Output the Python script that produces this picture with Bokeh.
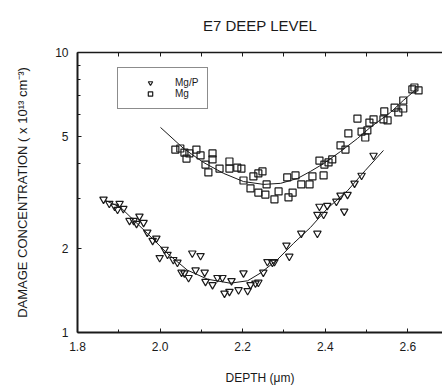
from bokeh.plotting import figure
from bokeh.models import FixedTicker, LinearAxis, PrintfTickFormatter, Legend, LegendItem
from bokeh.embed import file_html
from bokeh.resources import INLINE

# ---- data ----
mgp_depth = [1.863, 1.877, 1.890, 1.897, 1.902, 1.911, 1.926, 1.936, 1.943, 1.950,
             1.960, 1.969, 1.982, 1.991, 1.999, 2.011, 2.018, 2.032, 2.042, 2.052,
             2.059, 2.069, 2.078, 2.086, 2.098, 2.108, 2.110, 2.127, 2.139, 2.151,
             2.173, 2.202, 2.156, 2.168, 2.190, 2.212, 2.219, 2.231, 2.238, 2.250,
             2.260, 2.272, 2.277, 2.313, 2.306, 2.342, 2.381, 2.386, 2.381, 2.396,
             2.405, 2.427, 2.437, 2.454, 2.446, 2.471, 2.488, 2.517]
mgp_conc = [2.99, 2.89, 2.82, 2.75, 2.89, 2.77, 2.51, 2.51, 2.45, 2.60,
            2.47, 2.28, 2.13, 2.17, 1.85, 1.98, 1.90, 1.82, 1.78, 1.64,
            1.63, 1.57, 1.92, 1.67, 1.88, 1.64, 1.52, 1.48, 1.57, 1.57,
            1.53, 1.63, 1.38, 1.40, 1.42, 1.41, 1.48, 1.50, 1.51, 1.64,
            1.79, 1.78, 1.79, 1.87, 2.05, 2.26, 2.26, 2.82, 2.64, 2.64,
            2.84, 2.94, 3.09, 3.11, 2.71, 3.41, 3.64, 4.29]

mg_depth = [2.037, 2.049, 2.059, 2.064, 2.071, 2.088, 2.098, 2.110, 2.117, 2.127,
            2.127, 2.144, 2.168, 2.168, 2.187, 2.197, 2.202, 2.219, 2.226, 2.238,
            2.248, 2.238, 2.255, 2.258, 2.277, 2.287, 2.308, 2.311, 2.321, 2.328,
            2.342, 2.362, 2.369, 2.386, 2.396, 2.398, 2.408, 2.417, 2.437, 2.449,
            2.456, 2.478, 2.488, 2.497, 2.502, 2.507, 2.517, 2.541, 2.543, 2.551,
            2.568, 2.577, 2.589, 2.589, 2.611, 2.616, 2.626]
mg_conc = [4.50, 4.54, 4.39, 4.18, 4.36, 4.50, 4.29, 3.98, 3.73, 4.36,
           4.15, 3.85, 4.08, 3.85, 3.88, 3.85, 3.49, 3.27, 3.61, 3.70,
           3.76, 3.16, 3.11, 3.38, 2.99, 3.19, 3.58, 3.04, 3.16, 3.64,
           3.38, 3.38, 3.61, 4.11, 3.64, 3.98, 4.05, 4.15, 4.66, 4.50,
           5.14, 5.81, 5.22, 4.97, 5.27, 5.62, 5.77, 5.77, 6.16, 5.72,
           6.36, 6.11, 6.31, 6.74, 7.38, 7.50, 7.32]

mgp_fit_depth = [1.868, 1.904, 1.969, 2.017, 2.066, 2.115, 2.170, 2.212, 2.243, 2.284,
                 2.323, 2.364, 2.405, 2.454, 2.497, 2.541]
mgp_fit_conc = [2.96, 2.80, 2.26, 1.92, 1.67, 1.55, 1.50, 1.53, 1.63, 1.82,
                2.08, 2.37, 2.77, 3.21, 3.79, 4.47]

mg_fit_depth = [2.001, 2.057, 2.105, 2.154, 2.202, 2.251, 2.292, 2.333, 2.364, 2.396,
                2.437, 2.478, 2.509, 2.558, 2.589, 2.623]
mg_fit_conc = [5.40, 4.54, 4.05, 3.70, 3.46, 3.38, 3.41, 3.55, 3.76, 4.01,
               4.43, 4.93, 5.40, 6.11, 6.74, 7.44]

x_major = [1.8, 2.0, 2.2, 2.4, 2.6]
x_minor = [1.9, 2.1, 2.3, 2.5]
y_major = [1, 2, 5, 10]
y_minor = [3, 4, 6, 7, 8, 9]

FONT = "Liberation Sans"
INK = "#1a1a1a"

p = figure(width=442, height=387, x_range=(1.8, 2.684), y_range=(1, 10),
           y_axis_type="log", output_backend="svg", toolbar_location=None,
           min_border_left=77, min_border_right=0, min_border_top=52, min_border_bottom=55,
           background_fill_color="white", border_fill_color="white")
p.outline_line_color = None
p.grid.visible = False

# title
p.title.text = "E7 DEEP LEVEL"
p.title.align = "center"
p.title.vertical_align = "top"
p.title.text_font = FONT
p.title.text_font_size = "15px"
p.title.text_font_style = "normal"
p.title.text_color = INK
p.title.standoff = 33

# bottom axis
xa = p.xaxis[0]
xa.ticker = FixedTicker(ticks=x_major, minor_ticks=x_minor)
xa.formatter = PrintfTickFormatter(format="%.1f")
xa.axis_label = "DEPTH (\u03bcm)"
# left axis
ya = p.yaxis[0]
ya.ticker = FixedTicker(ticks=y_major, minor_ticks=y_minor)
ya.formatter = PrintfTickFormatter(format="%d")
ya.axis_label = "DAMAGE CONCENTRATION ( x 10\u00b9\u00b3 cm\u207b\u00b3)"

for ax in (xa, ya):
    ax.axis_line_width = 2
    ax.axis_line_color = INK
    ax.major_tick_in = 4
    ax.major_tick_out = 0
    ax.minor_tick_in = 3
    ax.minor_tick_out = 0
    ax.major_tick_line_color = INK
    ax.minor_tick_line_color = INK
    ax.major_label_text_font = FONT
    ax.major_label_text_font_size = "12px"
    ax.major_label_text_color = INK
    ax.axis_label_text_font = FONT
    ax.axis_label_text_font_size = "12px"
    ax.axis_label_text_font_style = "normal"
    ax.axis_label_text_color = INK
xa.major_label_standoff = 9
xa.axis_label_standoff = 17
ya.major_label_standoff = 9
ya.axis_label_standoff = 22
ya.axis_label_text_font_size = "13px"

# top axis: tick marks only (all as minor ticks, so no labels are made)
top = LinearAxis(ticker=FixedTicker(ticks=[], minor_ticks=sorted(x_major + x_minor)),
                 major_label_standoff=0,
                 axis_line_width=1.5, axis_line_color=INK,
                 major_tick_in=0, major_tick_out=0, minor_tick_in=4, minor_tick_out=0,
                 minor_tick_line_color=INK)
p.add_layout(top, "above")

# fits
p.line(mgp_fit_depth, mgp_fit_conc, line_color=INK, line_width=1)
p.line(mg_fit_depth, mg_fit_conc, line_color=INK, line_width=1)

# points
tri = p.scatter(mgp_depth, mgp_conc, marker="inverted_triangle", size=7.5,
                fill_color="white", fill_alpha=0.0, line_color=INK, line_width=1.2)
sq = p.scatter(mg_depth, mg_conc, marker="square", size=7,
               fill_color="white", fill_alpha=0.0, line_color=INK, line_width=1.2)

legend = Legend(items=[LegendItem(label="Mg/P", renderers=[tri]),
                       LegendItem(label="Mg", renderers=[sq])],
                location=(40, 223), margin=0, padding=9, spacing=0,
                glyph_width=46, glyph_height=11, label_height=11, label_standoff=2,
                label_text_font=FONT, label_text_font_size="10px", label_text_color=INK,
                border_line_color=INK, border_line_width=1.2,
                background_fill_color="white", background_fill_alpha=1.0)
p.add_layout(legend)

open("out.html", "w").write(file_html(p, INLINE))
